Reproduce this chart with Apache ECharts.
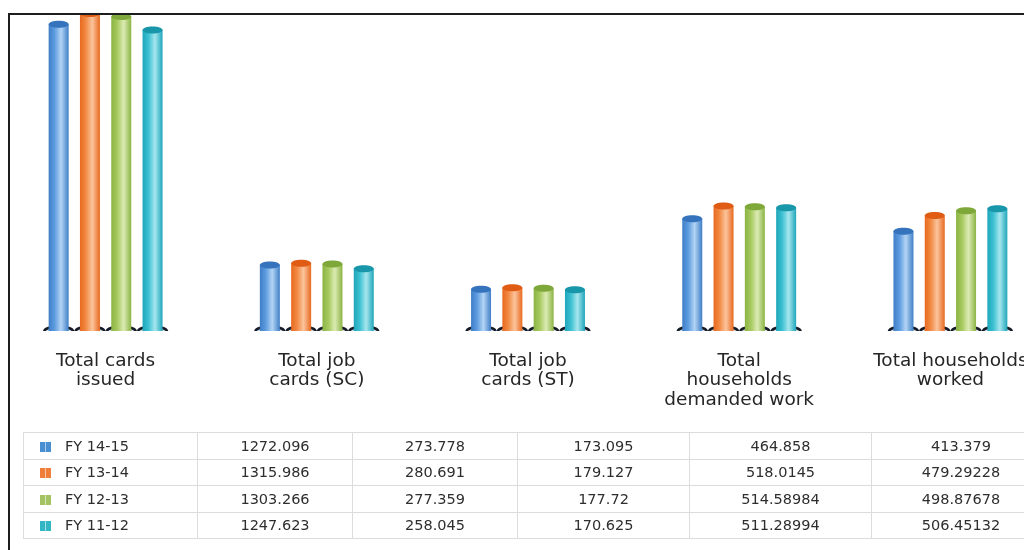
<!DOCTYPE html>
<html>
<head>
<meta charset="utf-8">
<script src="https://cdn.jsdelivr.net/npm/echarts@6/dist/echarts.min.js"></script>
<style>
  html, body { margin: 0; padding: 0; background: #ffffff; }
  #wrap { position: relative; width: 1024px; height: 550px; overflow: hidden; background: #fff; }
  #chart { position: absolute; left: 0; top: 0; width: 1024px; height: 550px; }
  #frame { position: absolute; left: 8px; top: 13px; width: 1100px; height: 600px;
           border-top: 2px solid #1e1e1e; border-left: 2px solid #1e1e1e; pointer-events: none; }
  #tblwrap { position: absolute; left: 23px; top: 432px; width: 1100px; }
  #tbl { border-collapse: collapse; table-layout: fixed;
         font-family: "DejaVu Sans", sans-serif; font-size: 14.5px; color: #2e2e2e; }
  #tbl td { border: 1px solid #dcdcdc; height: 25.5px; padding: 0; text-align: center; white-space: nowrap; overflow: hidden; }
  #tbl td.first { text-align: left; }
  .sw { display: inline-block; width: 11px; height: 10px; margin: 0 14px 0 16px; vertical-align: -1px; position: relative; }
  .sw::after { content: ""; position: absolute; left: 5px; top: 0; width: 1px; height: 10px; background: rgba(255,255,255,0.55); }
</style>
</head>
<body>
<div id="wrap">
  <div id="chart"></div>
  <div id="tblwrap"><table id="tbl"></table></div>
  <div id="frame"></div>
</div>
<script>
// ---- data ----
const categories = ['Total cards\nissued', 'Total job\ncards (SC)', 'Total job\ncards (ST)', 'Total\nhouseholds\ndemanded work', 'Total households\nworked'];
const years = ['FY 14-15', 'FY 13-14', 'FY 12-13', 'FY 11-12'];
const fy1415 = [1272.096, 273.778, 173.095, 464.858, 413.379];
const fy1314 = [1315.986, 280.691, 179.127, 518.0145, 479.29228];
const fy1213 = [1303.266, 277.359, 177.72, 514.58984, 498.87678];
const fy1112 = [1247.623, 258.045, 170.625, 511.28994, 506.45132];
const valuesByYear = [fy1415, fy1314, fy1213, fy1112];

// ---- styles ----
const palettes = [
  { edge: '#3f7ec6', mid: '#5d9ce0', light: '#b3d4f4', cap: '#3573bd', base: '#5b98d8', swatch: '#4a8ed2' },
  { edge: '#e8691f', mid: '#f28a44', light: '#fbc49c', cap: '#e05c14', base: '#f08a48', swatch: '#ef7e3a' },
  { edge: '#8bb444', mid: '#a6c95e', light: '#dcebb4', cap: '#7fa83a', base: '#a2c45c', swatch: '#a4c262' },
  { edge: '#1fa6ba', mid: '#3cc0d2', light: '#a6e6ee', cap: '#1896aa', base: '#3ab8c8', swatch: '#33b6c4' }
];
const barW = 20;
const step = 31.3;

function makeRender(si) {
  const p = palettes[si];
  return function (params, api) {
    const top = api.coord([api.value(0), api.value(1)]);
    const bot = api.coord([api.value(0), 0]);
    const cx = top[0] + (si - 1.5) * step;
    const grad = new echarts.graphic.LinearGradient(0, 0, 1, 0, [
      { offset: 0, color: p.edge },
      { offset: 0.3, color: p.mid },
      { offset: 0.62, color: p.light },
      { offset: 1, color: p.edge }
    ]);
    return {
      type: 'group',
      children: [
        { type: 'ellipse', shape: { cx: cx, cy: bot[1] + 0.5, rx: 14.5, ry: 5 },
          style: { fill: '#d8e0e8', stroke: '#161b28', lineWidth: 2.5 }, z2: 1 },
        { type: 'ellipse', shape: { cx: cx, cy: bot[1], rx: barW / 2, ry: 2.5 },
          style: { fill: p.base }, z2: 2 },
        { type: 'rect', shape: { x: cx - barW / 2, y: top[1], width: barW, height: bot[1] - top[1] },
          style: { fill: grad }, z2: 3 },
        { type: 'ellipse', shape: { cx: cx, cy: top[1], rx: barW / 2, ry: 3.5 },
          style: { fill: p.cap }, z2: 4 }
      ]
    };
  };
}

const chart = echarts.init(document.getElementById('chart'), null, { renderer: 'canvas' });
chart.setOption({
  backgroundColor: '#ffffff',
  animation: false,
  grid: { left: 0, top: 15, width: 1056, height: 316, containLabel: false, outerBoundsMode: 'none' },
  xAxis: {
    type: 'category',
    data: categories,
    axisLine: { show: false },
    axisTick: { show: false },
    axisLabel: { interval: 0, margin: 20, fontSize: 18.5, lineHeight: 19.5,
                 fontFamily: 'DejaVu Sans', color: '#262626' }
  },
  yAxis: { type: 'value', min: 0, max: 1310, show: false, splitLine: { show: false } },
  series: valuesByYear.map(function (vals, si) {
    return {
      type: 'custom',
      name: years[si],
      clip: true,
      renderItem: makeRender(si),
      encode: { x: 0, y: 1 },
      data: vals.map(function (v, i) { return [i, v]; })
    };
  })
});

// ---- table built from the same arrays ----
const colWidths = [173, 154, 164, 171, 181, 178];
const tbl = document.getElementById('tbl');
tbl.style.width = colWidths.reduce(function (a, b) { return a + b; }, 0) + 'px';
years.forEach(function (y, si) {
  const tr = document.createElement('tr');
  const td0 = document.createElement('td');
  td0.className = 'first';
  td0.style.width = colWidths[0] + 'px';
  const sw = document.createElement('span');
  sw.className = 'sw';
  sw.style.background = palettes[si].swatch;
  td0.appendChild(sw);
  td0.appendChild(document.createTextNode(y));
  tr.appendChild(td0);
  valuesByYear[si].forEach(function (v, ci) {
    const td = document.createElement('td');
    td.style.width = colWidths[ci + 1] + 'px';
    td.textContent = String(v);
    tr.appendChild(td);
  });
  tbl.appendChild(tr);
});
</script>
</body>
</html>
